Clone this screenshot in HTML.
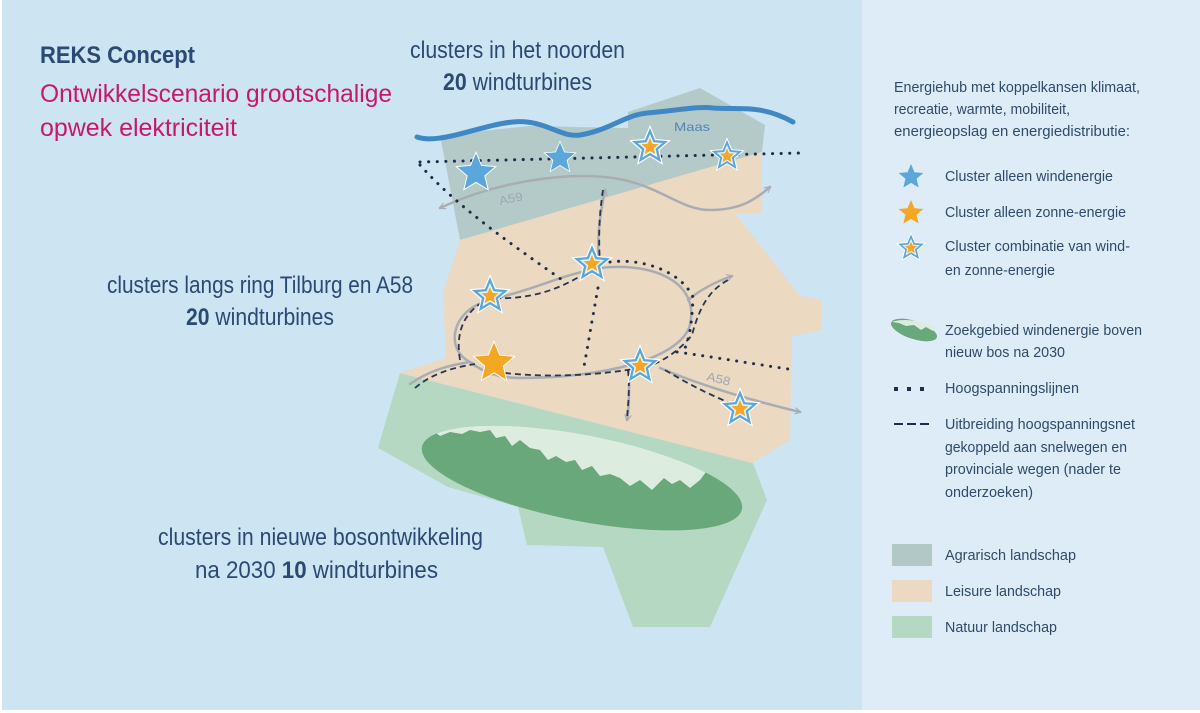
<!DOCTYPE html>
<html><head><meta charset="utf-8"><style>
html,body{margin:0;padding:0;width:1200px;height:713px;overflow:hidden;background:#fff}
svg{display:block}
text{font-family:"Liberation Sans",sans-serif}
</style></head><body>
<svg width="1200" height="713" viewBox="0 0 1200 713" xmlns="http://www.w3.org/2000/svg">
<defs>
<polygon id="st" points="0,-1 0.265,-0.364 0.951,-0.309 0.428,0.139 0.588,0.809 0,0.45 -0.588,0.809 -0.428,0.139 -0.951,-0.309 -0.265,-0.364"/>
<g id="combo">
<use href="#st" transform="scale(22)" fill="#fff"/>
<use href="#st" transform="scale(19)" fill="#5ba7dc"/>
<use href="#st" transform="scale(13)" fill="#eaf2f8"/>
<use href="#st" transform="scale(9)" fill="#f5a623"/>
</g>
<g id="wind">
<use href="#st" transform="scale(22)" fill="#fff"/>
<use href="#st" transform="scale(19.5)" fill="#5ba7dc"/>
</g>
<g id="sun">
<use href="#st" transform="scale(22)" fill="#fff"/>
<use href="#st" transform="scale(19.5)" fill="#f5a623"/>
</g>
<clipPath id="ec"><ellipse cx="582" cy="478" rx="163" ry="43" transform="rotate(11 582 478)"/></clipPath>
<marker id="ar" viewBox="0 0 10 10" refX="8" refY="5" markerWidth="7" markerHeight="7" orient="auto-start-reverse" markerUnits="userSpaceOnUse">
<path d="M0,0 L9,5 L0,10" fill="none" stroke="#a9adb3" stroke-width="1.6"/>
</marker>
</defs>
<rect x="0" y="0" width="1200" height="713" fill="#fff"/>
<rect x="2" y="0" width="860" height="710" fill="#cde4f3"/>
<rect x="862" y="0" width="338" height="710" fill="#ddecf7"/>

<polygon points="400,373 378,448 448,487 518,507 527,545 603,547 633,627 710,627 767,500 753,463" fill="#b5d8c3"/>
<polygon points="460,240 762,150 762,213 735,213 800,296 822,300 822,330 792,336 790,440 752,463 400,373 446,358 443,293" fill="#ebd9c1"/>
<polygon points="440,135 530,126 628,128 628,112 700,88 765,125 762,152 460,240" fill="#b2c8c6" opacity="0.95"/>

<ellipse cx="582" cy="478" rx="163" ry="43" transform="rotate(11 582 478)" fill="#68a87a"/>
<polygon clip-path="url(#ec)" fill="#dcecdf" points="410,400 760,400 760,490 752,488 745,478 738,484 730,470 722,476 715,462 706,472 700,480 690,488 680,480 672,484 664,478 652,490 640,480 630,486 620,478 610,474 600,476 592,466 582,470 575,460 566,462 556,456 548,460 540,450 530,448 520,440 512,446 505,436 496,438 490,430 480,432 470,430 462,434 450,432 440,436 430,428 420,420"/>

<path d="M417,137 C440,145 480,125 513,122 C545,119 560,138 580,135 C610,130 625,115 647,113 C680,110 700,106 713,108 C740,110 760,104 793,122" fill="none" stroke="#3f88c5" stroke-width="5" stroke-linecap="round"/>
<text x="674" y="131" font-size="12" fill="#4f86b5" textLength="36" lengthAdjust="spacingAndGlyphs">Maas</text>

<g fill="none" stroke="#a9adb3" stroke-width="2.5" stroke-linecap="round">
<path d="M440,208 C500,180 570,172 613,178 C660,185 680,210 710,210 C740,210 755,200 770,187" marker-start="url(#ar)" marker-end="url(#ar)"/>
<path d="M410,384 C430,370 450,365 470,362 C445,350 450,310 490,300 C540,288 560,275 600,268 C650,262 700,280 690,325 C680,360 600,378 520,378 C495,378 480,370 470,362"/>
<path d="M600,268 C595,240 602,205 605,190" marker-end="url(#ar)"/>
<path d="M688,300 C700,290 715,282 732,276" marker-end="url(#ar)"/>
<path d="M630,370 C628,390 630,405 627,420" marker-end="url(#ar)"/>
<path d="M660,368 C700,385 750,400 800,412" marker-end="url(#ar)"/>
</g>
<text x="500" y="205" font-size="12" fill="#a0a6b3" transform="rotate(-12 500 205)" textLength="24" lengthAdjust="spacingAndGlyphs">A59</text>
<text x="706" y="380" font-size="12" fill="#a0a6b3" transform="rotate(14 706 380)" textLength="24" lengthAdjust="spacingAndGlyphs">A58</text>

<g fill="none" stroke="#2a3550" stroke-width="1.8" stroke-dasharray="6,4">
<path d="M415,388 C430,375 450,368 475,364"/>
<path d="M460,360 C455,330 465,310 490,298 C530,300 560,290 590,270"/>
<path d="M505,373 C550,378 600,375 640,368 C660,365 680,350 692,335 C700,305 710,290 728,280"/>
<path d="M603,190 C600,210 598,230 600,265"/>
<path d="M628,370 C630,390 628,405 627,418"/>
<path d="M665,370 C690,385 710,395 735,405"/>
</g>
<g fill="none" stroke="#1f2d4a" stroke-width="3" stroke-dasharray="0.1,8.5" stroke-linecap="round">
<path d="M420,162 L800,153"/>
<path d="M420,165 C460,210 520,250 565,282"/>
<path d="M610,262 C640,258 680,270 693,297 C692,320 690,340 683,352"/>
<path d="M598,288 C592,320 588,345 583,372"/>
<path d="M677,352 C720,358 760,365 795,370"/>
</g>

<use href="#wind" transform="translate(476,173)"/>
<use href="#wind" transform="translate(560,158) scale(0.8)"/>
<use href="#combo" transform="translate(650,147)"/>
<use href="#combo" transform="translate(727,156) scale(0.85)"/>
<use href="#combo" transform="translate(592,264)"/>
<use href="#combo" transform="translate(490,296)"/>
<use href="#combo" transform="translate(640,366)"/>
<use href="#combo" transform="translate(740,409)"/>
<use href="#sun" transform="translate(494,363) scale(1.05)"/>

<text x="40" y="63" font-size="24" font-weight="bold" fill="#2b4a73" textLength="155" lengthAdjust="spacingAndGlyphs">REKS Concept</text>
<text x="40" y="102" font-size="25" fill="#c8176d" textLength="352" lengthAdjust="spacingAndGlyphs">Ontwikkelscenario grootschalige</text>
<text x="40" y="136" font-size="25" fill="#c8176d" textLength="197" lengthAdjust="spacingAndGlyphs">opwek elektriciteit</text>

<g fill="#2b4a73" font-size="24">
<text x="410" y="58" textLength="215" lengthAdjust="spacingAndGlyphs">clusters in het noorden</text>
<text x="443" y="90" textLength="149" lengthAdjust="spacingAndGlyphs"><tspan font-weight="bold">20</tspan> windturbines</text>
<text x="107" y="293" textLength="306" lengthAdjust="spacingAndGlyphs">clusters langs ring Tilburg en A58</text>
<text x="186" y="325" textLength="148" lengthAdjust="spacingAndGlyphs"><tspan font-weight="bold">20</tspan> windturbines</text>
<text x="158" y="545" textLength="325" lengthAdjust="spacingAndGlyphs">clusters in nieuwe bosontwikkeling</text>
<text x="195" y="578" textLength="243" lengthAdjust="spacingAndGlyphs">na 2030 <tspan font-weight="bold">10</tspan> windturbines</text>
</g>

<g fill="#2f4a6a" font-size="15">
<text x="894" y="92" textLength="246" lengthAdjust="spacingAndGlyphs">Energiehub met koppelkansen klimaat,</text>
<text x="894" y="114" textLength="176" lengthAdjust="spacingAndGlyphs">recreatie, warmte, mobiliteit,</text>
<text x="894" y="136" textLength="236" lengthAdjust="spacingAndGlyphs">energieopslag en energiedistributie:</text>
<text x="945" y="181" textLength="168" lengthAdjust="spacingAndGlyphs">Cluster alleen windenergie</text>
<text x="945" y="217" textLength="181" lengthAdjust="spacingAndGlyphs">Cluster alleen zonne-energie</text>
<text x="945" y="251" textLength="185" lengthAdjust="spacingAndGlyphs">Cluster combinatie van wind-</text>
<text x="945" y="275" textLength="110" lengthAdjust="spacingAndGlyphs">en zonne-energie</text>
<text x="945" y="335" textLength="197" lengthAdjust="spacingAndGlyphs">Zoekgebied windenergie boven</text>
<text x="945" y="357" textLength="120" lengthAdjust="spacingAndGlyphs">nieuw bos na 2030</text>
<text x="945" y="393" textLength="134" lengthAdjust="spacingAndGlyphs">Hoogspanningslijnen</text>
<text x="945" y="429" textLength="190" lengthAdjust="spacingAndGlyphs">Uitbreiding hoogspanningsnet</text>
<text x="945" y="452" textLength="182" lengthAdjust="spacingAndGlyphs">gekoppeld aan snelwegen en</text>
<text x="945" y="474" textLength="176" lengthAdjust="spacingAndGlyphs">provinciale wegen (nader te</text>
<text x="945" y="497" textLength="88" lengthAdjust="spacingAndGlyphs">onderzoeken)</text>
<text x="945" y="560" textLength="131" lengthAdjust="spacingAndGlyphs">Agrarisch landschap</text>
<text x="945" y="596" textLength="116" lengthAdjust="spacingAndGlyphs">Leisure landschap</text>
<text x="945" y="632" textLength="112" lengthAdjust="spacingAndGlyphs">Natuur landschap</text>
</g>
<use href="#st" transform="translate(911,177) scale(13)" fill="#5ba7dc"/>
<use href="#st" transform="translate(911,213) scale(13)" fill="#f5a623"/>
<g transform="translate(911,248) scale(0.72)"><use href="#combo"/></g>
<ellipse cx="914" cy="330" rx="24" ry="9" transform="rotate(18 914 330)" fill="#68a87a"/>
<path d="M892,322 C902,318 922,320 936,328 L933,331 L926,327 L921,330 L914,325 L906,326 L899,323 Z" fill="#dcecdf"/>
<g fill="#1f2d4a"><rect x="894" y="387" width="4" height="4"/><rect x="907" y="387" width="4" height="4"/><rect x="920" y="387" width="4" height="4"/></g>
<g stroke="#1f2d4a" stroke-width="2"><line x1="894" y1="424" x2="903" y2="424"/><line x1="907" y1="424" x2="916" y2="424"/><line x1="920" y1="424" x2="929" y2="424"/></g>
<rect x="892" y="544" width="40" height="22" fill="#b2c8c6"/>
<rect x="892" y="580" width="40" height="22" fill="#ebd9c1"/>
<rect x="892" y="616" width="40" height="22" fill="#b5d8c3"/>
</svg>
</body></html>
